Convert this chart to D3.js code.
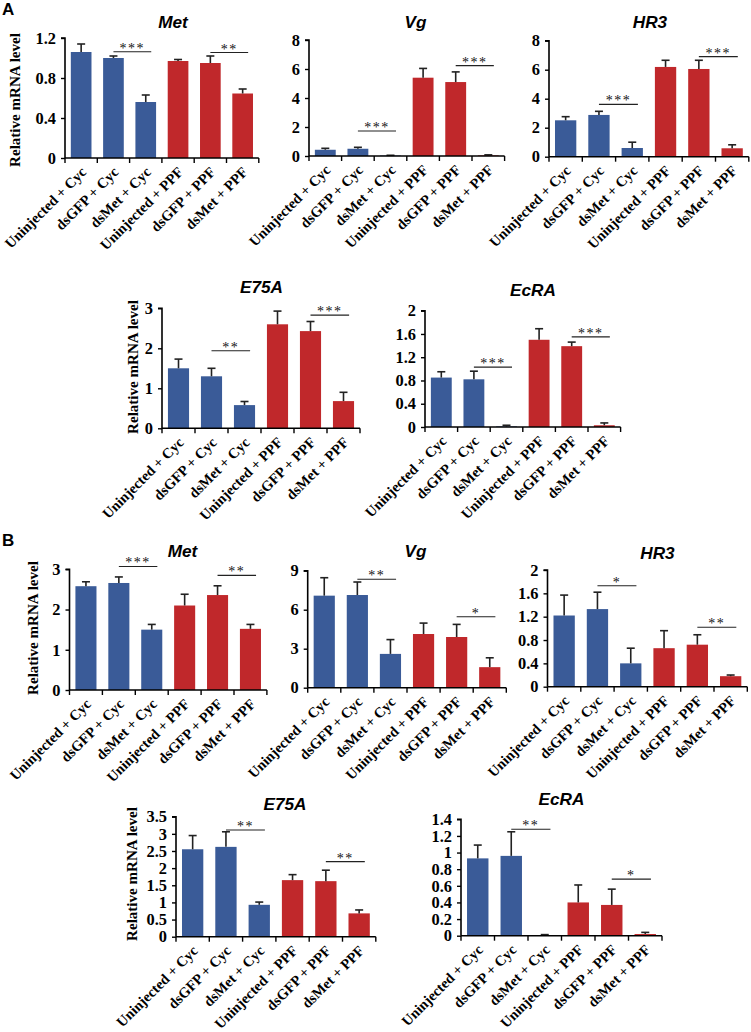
<!DOCTYPE html>
<html><head><meta charset="utf-8">
<script src="https://cdn.jsdelivr.net/npm/d3@7"></script>
<style>
body{margin:0;background:#fff;}
svg{display:block;}
</style></head>
<body>
<svg id="fig" width="751" height="1032"></svg>
<script>
// ---- data ----
const categories = ["Uninjected + Cyc","dsGFP + Cyc","dsMet + Cyc","Uninjected + PPF","dsGFP + PPF","dsMet + PPF"];
const groupOfBar = ["Cyc","Cyc","Cyc","PPF","PPF","PPF"];

const genesA = ["Met","Vg","HR3","E75A","EcRA"];
const genesB = ["Met","Vg","HR3","E75A","EcRA"];

const meanA_Met  = [1.06, 1.00, 0.56, 0.97, 0.95, 0.645];
const errA_Met   = [0.08, 0.02, 0.07, 0.015, 0.07, 0.045];
const meanA_Vg   = [0.43, 0.50, 0.03, 5.40, 5.10, 0.04];
const errA_Vg    = [0.10, 0.10, 0.02, 0.64, 0.70, 0.04];
const meanA_HR3  = [2.51, 2.88, 0.60, 6.19, 6.05, 0.58];
const errA_HR3   = [0.25, 0.25, 0.40, 0.46, 0.60, 0.24];
const meanA_E75A = [1.50, 1.30, 0.58, 2.60, 2.43, 0.68];
const errA_E75A  = [0.23, 0.20, 0.09, 0.33, 0.24, 0.22];
const meanA_EcRA = [0.85, 0.82, 0.01, 1.50, 1.39, 0.03];
const errA_EcRA  = [0.10, 0.14, 0.02, 0.19, 0.07, 0.04];

const meanB_Met  = [2.58, 2.66, 1.50, 2.10, 2.36, 1.52];
const errB_Met   = [0.11, 0.15, 0.13, 0.28, 0.23, 0.11];
const meanB_Vg   = [7.08, 7.13, 2.60, 4.13, 3.90, 1.58];
const errB_Vg    = [1.38, 1.00, 1.10, 0.84, 0.97, 0.72];
const meanB_HR3  = [1.22, 1.33, 0.40, 0.66, 0.72, 0.18];
const errB_HR3   = [0.35, 0.29, 0.26, 0.30, 0.17, 0.02];
const meanB_E75A = [2.55, 2.62, 0.93, 1.65, 1.62, 0.68];
const errB_E75A  = [0.40, 0.44, 0.08, 0.16, 0.32, 0.10];
const meanB_EcRA = [0.93, 0.96, 0.005, 0.40, 0.37, 0.02];
const errB_EcRA  = [0.16, 0.29, 0.008, 0.21, 0.19, 0.02];

const ticksA_Met  = [0, 0.4, 0.8, 1.2];
const ticksA_Vg   = [0, 2, 4, 6, 8];
const ticksA_HR3  = [0, 2, 4, 6, 8];
const ticksA_E75A = [0, 1, 2, 3];
const ticksA_EcRA = [0, 0.4, 0.8, 1.2, 1.6, 2];
const ticksB_Met  = [0, 1, 2, 3];
const ticksB_Vg   = [0, 3, 6, 9];
const ticksB_HR3  = [0, 0.4, 0.8, 1.2, 1.6, 2];
const ticksB_E75A = [0, 0.5, 1, 1.5, 2, 2.5, 3, 3.5];
const ticksB_EcRA = [0, 0.2, 0.4, 0.6, 0.8, 1, 1.2, 1.4];

// significance: [fromBar, toBar, yValue, label]
const sigA_Met  = [[1,2,1.063,"***"],[4,5,1.055,"**"]];
const sigA_Vg   = [[1,2,1.72,"***"],[4,5,6.23,"***"]];
const sigA_HR3  = [[1,2,3.61,"***"],[4,5,6.90,"***"]];
const sigA_E75A = [[1,2,1.94,"**"],[4,5,2.83,"***"]];
const sigA_EcRA = [[1,2,1.03,"***"],[4,5,1.55,"***"]];
const sigB_Met  = [[1,2,3.07,"***"],[4,5,2.85,"**"]];
const sigB_Vg   = [[1,2,8.34,"**"],[4,5,5.46,"*"]];
const sigB_HR3  = [[1,2,1.73,"*"],[4,5,1.02,"**"]];
const sigB_E75A = [[1,2,3.11,"**"],[4,5,2.19,"**"]];
const sigB_EcRA = [[1,2,1.28,"**"],[4,5,0.68,"*"]];

const yLabel = "Relative mRNA level";
const panelLetters = ["A","B"];

// ---- layout (pixel frames) ----
const colors = {Cyc:"#3A5B98", PPF:"#C0282B"};
const SERIF = "'Liberation Serif','Times New Roman',serif";
const SANS = "'Liberation Sans',Arial,sans-serif";
const charts = [
  {gene:genesA[0], mean:meanA_Met,  err:errA_Met,  ticks:ticksA_Met,  sig:sigA_Met,  x0:65,   bw:32.3, yb:158,   yt:38,    ylab:[15,100],  tx:173,   ty:28},
  {gene:genesA[1], mean:meanA_Vg,   err:errA_Vg,   ticks:ticksA_Vg,   sig:sigA_Vg,   x0:309,  bw:32.6, yb:156,   yt:40,    ylab:null,      tx:415.5, ty:28},
  {gene:genesA[2], mean:meanA_HR3,  err:errA_HR3,  ticks:ticksA_HR3,  sig:sigA_HR3,  x0:549,  bw:33.3, yb:156.7, yt:40.7,  ylab:null,      tx:650,   ty:28},
  {gene:genesA[3], mean:meanA_E75A, err:errA_E75A, ticks:ticksA_E75A, sig:sigA_E75A, x0:162,  bw:33.0, yb:428.3, yt:308.3, ylab:[133,367], tx:261.5, ty:293},
  {gene:genesA[4], mean:meanA_EcRA, err:errA_EcRA, ticks:ticksA_EcRA, sig:sigA_EcRA, x0:425,  bw:32.6, yb:427,   yt:310.7, ylab:null,      tx:533,   ty:296},
  {gene:genesB[0], mean:meanB_Met,  err:errB_Met,  ticks:ticksB_Met,  sig:sigB_Met,  x0:69.5, bw:32.9, yb:690,   yt:569.3, ylab:[33,628],  tx:182.5, ty:557},
  {gene:genesB[1], mean:meanB_Vg,   err:errB_Vg,   ticks:ticksB_Vg,   sig:sigB_Vg,   x0:307.7,bw:33.1, yb:687.7, yt:570.7, ylab:null,      tx:415.5, ty:557},
  {gene:genesB[2], mean:meanB_HR3,  err:errB_HR3,  ticks:ticksB_HR3,  sig:sigB_HR3,  x0:547.5,bw:33.3, yb:686.7, yt:570,   ylab:null,      tx:657.5, ty:559},
  {gene:genesB[3], mean:meanB_E75A, err:errB_E75A, ticks:ticksB_E75A, sig:sigB_E75A, x0:176,  bw:33.3, yb:936.7, yt:816.7, ylab:[132,874], tx:285,   ty:810},
  {gene:genesB[4], mean:meanB_EcRA, err:errB_EcRA, ticks:ticksB_EcRA, sig:sigB_EcRA, x0:461,  bw:33.5, yb:935.7, yt:819.3, ylab:null,      tx:561.5, ty:805}
];

const svg = d3.select("#fig");

// font size fitting: measure a sample string at a base size and scale to the target width
function fitSize(str, family, weight, style, target){
  const t = svg.append("text").text(str).style("font-family",family).style("font-weight",weight)
    .style("font-style",style).style("font-size","20px");
  const L = t.node().getComputedTextLength();
  t.remove();
  return 20*target/L;
}
const fsX = fitSize("Uninjected + Cyc", SERIF, "bold", "normal", 108);
const fsTick = fitSize("1.2", SERIF, "bold", "normal", 20.5);
const fsY = fitSize(yLabel, SERIF, "bold", "normal", 134);
const fsTitle = fitSize("E75A", SANS, "bold", "italic", 43);
const fsStar = fitSize("***", SERIF, "normal", "normal", 21);

// panel letters
[[panelLetters[0],15],[panelLetters[1],546]].forEach(p=>{
  svg.append("text").attr("x",2).attr("y",p[1]).text(p[0])
    .style("font-family",SANS).style("font-weight","bold").style("font-size","17px");
});

charts.forEach(c => {
  const g = svg.append("g");
  const x = d3.scaleBand().domain(categories).range([c.x0, c.x0 + c.bw*categories.length]).padding(0);
  const maxV = c.ticks[c.ticks.length-1];
  const y = d3.scaleLinear().domain([0, maxV]).range([c.yb, c.yt]);
  const barW = x.bandwidth()*0.64;
  const cx = i => x(categories[i]) + x.bandwidth()/2;

  // bars
  g.selectAll("rect.bar").data(c.mean).enter().append("rect")
    .attr("x",(d,i)=>cx(i)-barW/2).attr("width",barW)
    .attr("y",d=>y(d)).attr("height",d=>c.yb-y(d))
    .attr("fill",(d,i)=>colors[groupOfBar[i]]);

  // error bars (upper)
  c.mean.forEach((m,i)=>{
    const top = y(m + c.err[i]);
    g.append("line").attr("x1",cx(i)).attr("x2",cx(i)).attr("y1",y(m)).attr("y2",top)
      .attr("stroke","#222").attr("stroke-width",1.6);
    g.append("line").attr("x1",cx(i)-4).attr("x2",cx(i)+4).attr("y1",top).attr("y2",top)
      .attr("stroke","#222").attr("stroke-width",1.6);
  });

  // y axis
  const yAxis = d3.axisLeft(y).tickValues(c.ticks).tickSize(4).tickPadding(5).tickFormat(d3.format("~g"));
  const ya = g.append("g").attr("transform",`translate(${c.x0},0)`).call(yAxis);
  ya.select(".domain").attr("stroke","#000").attr("stroke-width",1.6).attr("d",`M-4,${c.yt}H0V${c.yb}`);
  ya.selectAll(".tick line").attr("stroke","#000").attr("stroke-width",1.4);
  ya.selectAll(".tick text").style("font-family",SERIF).style("font-weight","bold")
    .style("font-size",fsTick+"px").attr("fill","#000");

  // x axis
  const xa = g.append("g").attr("transform",`translate(0,${c.yb})`);
  xa.append("line").attr("x1",c.x0).attr("x2",c.x0+c.bw*categories.length).attr("y1",0).attr("y2",0)
    .attr("stroke","#000").attr("stroke-width",1.6);
  d3.range(categories.length+1).forEach(k=>{
    const xx = c.x0 + k*x.step();
    xa.append("line").attr("x1",xx).attr("x2",xx).attr("y1",0).attr("y2",5).attr("stroke","#000").attr("stroke-width",1.4);
  });
  categories.forEach((cat,i)=>{
    xa.append("text").attr("transform",`translate(${cx(i)+6},${15}) rotate(-45)`)
      .attr("text-anchor","end").text(cat)
      .style("font-family",SERIF).style("font-weight","bold").style("font-size",fsX+"px");
  });

  // title
  g.append("text").attr("x",c.tx).attr("y",c.ty).attr("text-anchor","middle").text(c.gene)
    .style("font-family",SANS).style("font-weight","bold").style("font-style","italic").style("font-size",fsTitle+"px");

  // y label
  if (c.ylab) {
    g.append("text").attr("transform",`translate(${c.ylab[0]},${c.ylab[1]}) rotate(-90)`)
      .attr("text-anchor","middle").attr("dominant-baseline","central").text(yLabel)
      .style("font-family",SERIF).style("font-weight","bold").style("font-size",fsY+"px");
  }

  // significance
  c.sig.forEach(s=>{
    const x1 = cx(s[0]), x2 = cx(s[1]) + x.step()*0.17, yy = y(s[2]);
    g.append("line").attr("x1",x1).attr("x2",x2).attr("y1",yy).attr("y2",yy).attr("stroke","#222").attr("stroke-width",1.1);
    g.append("text").attr("x",(x1+x2)/2).attr("y",yy+1).attr("text-anchor","middle").text(s[3])
      .style("font-family",SERIF).style("font-size",fsStar+"px").style("letter-spacing","1.5px").attr("fill","#111");
  });
});
</script>
</body></html>
